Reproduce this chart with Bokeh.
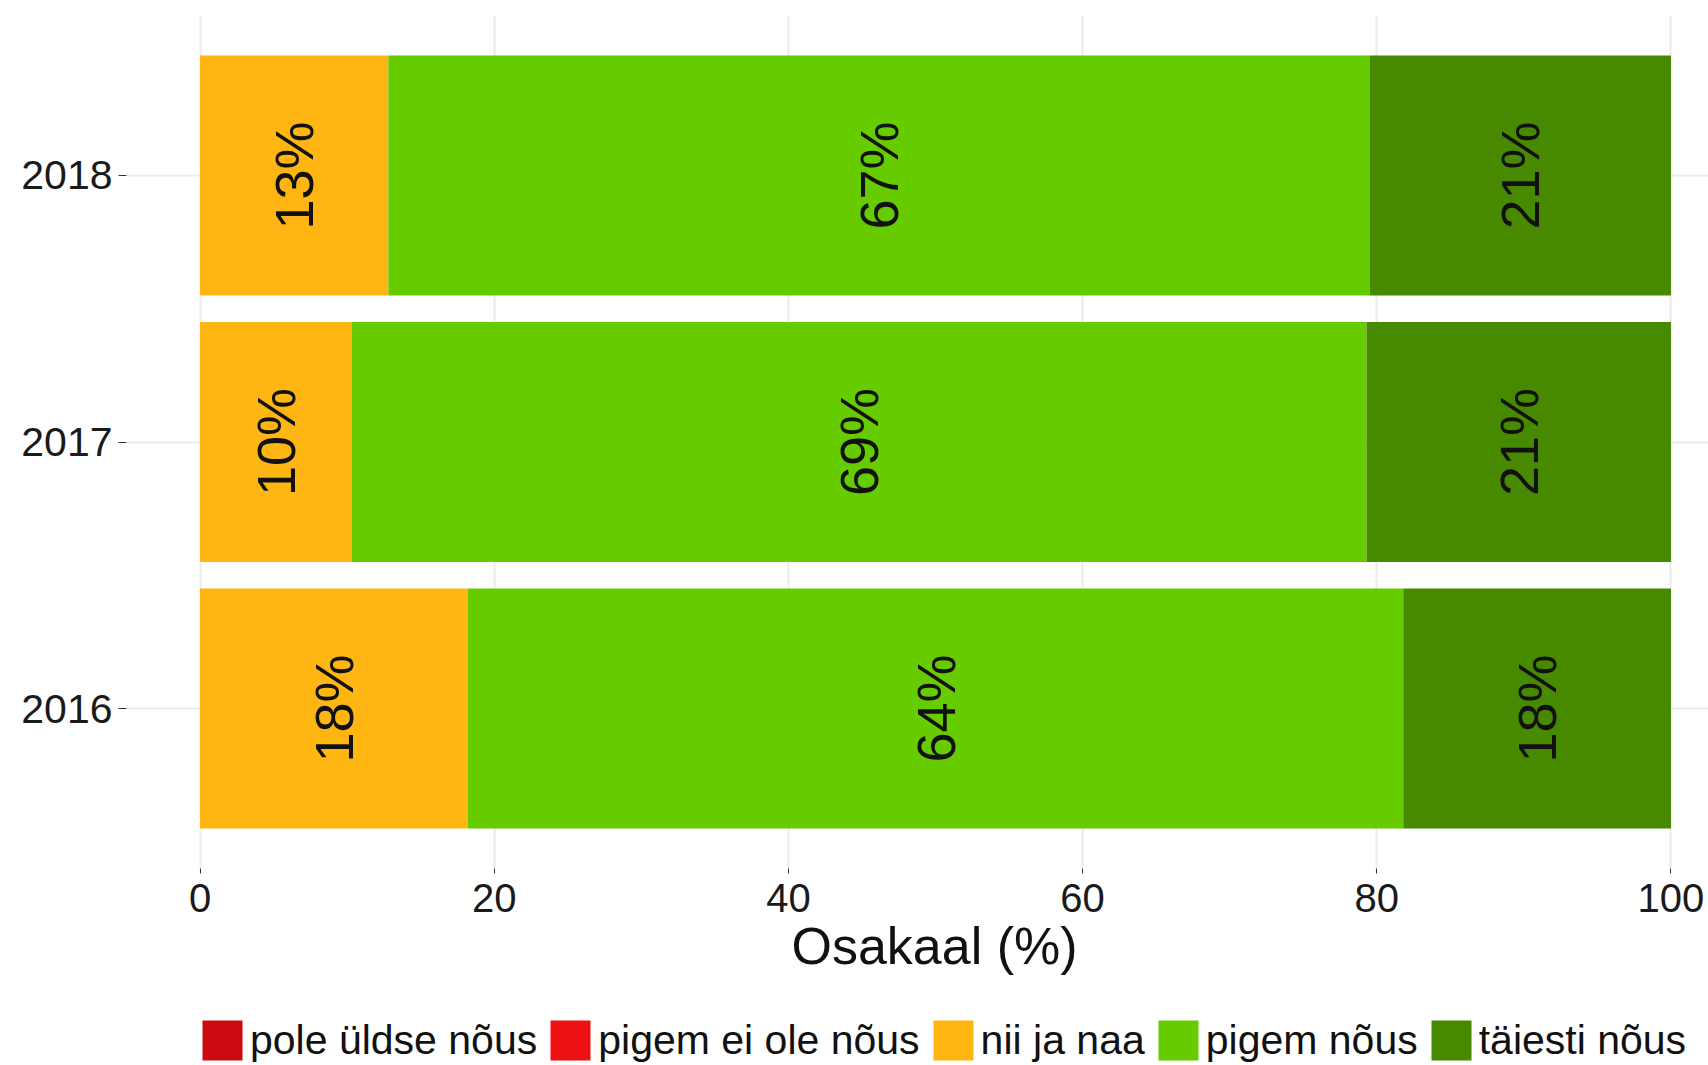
import math
from bokeh.plotting import figure
from bokeh.layouts import column
from bokeh.models import (ColumnDataSource, FactorRange, Range1d, FixedTicker,
                          Legend, LegendItem, Title)
from bokeh.core.properties import value
from bokeh.embed import file_html
from bokeh.resources import INLINE

# ---- data ----
years = ["2016", "2017", "2018"]
categories = ["pole üldse nõus", "pigem ei ole nõus", "nii ja naa", "pigem nõus", "täiesti nõus"]
pole_uldse_nous = [0.0, 0.0, 0.0]
pigem_ei_ole_nous = [0.0, 0.0, 0.0]
nii_ja_naa = [18.2, 10.3, 12.8]
pigem_nous = [63.6, 69.0, 66.7]
taiesti_nous = [18.2, 20.7, 20.5]
colors = ["#CC0A10", "#EE1111", "#FFB612", "#66CC00", "#478A00"]
x_ticks = [0, 20, 40, 60, 80, 100]
x_title = "Osakaal (%)"

FONT = "Liberation Sans"
keys = ["pole_uldse", "pigem_ei", "nii_ja_naa", "pigem_nous", "taiesti"]
series = [pole_uldse_nous, pigem_ei_ole_nous, nii_ja_naa, pigem_nous, taiesti_nous]

data = {"year": years}
for k, s in zip(keys, series):
    data[k] = s
source = ColumnDataSource(data)

p = figure(
    y_range=FactorRange(factors=years, range_padding=0.1, range_padding_units="absolute"),
    x_range=Range1d(-5, 102.55),
    width=1708, height=1005,
    min_border_left=126, min_border_right=0, min_border_top=15, min_border_bottom=137,
    output_backend="svg", toolbar_location=None,
)

p.xgrid.ticker = FixedTicker(ticks=x_ticks)
p.xgrid.grid_line_color = "#EBEBEB"
p.xgrid.grid_line_width = 2
p.ygrid.grid_line_color = "#EBEBEB"
p.ygrid.grid_line_width = 2

p.hbar_stack(keys, y="year", height=0.9, color=colors, line_color=None, source=source)

# labels in the middle of each segment
lx, ly, lt = [], [], []
for i, yr in enumerate(years):
    cum = 0.0
    for s in series:
        v = s[i]
        if v > 0:
            lx.append(cum + v / 2)
            ly.append(yr)
            lt.append(f"{int(v + 0.5)}%")
        cum += v
lsrc = ColumnDataSource(dict(x=lx, y=ly, t=lt))
p.text(x="x", y="y", text="t", source=lsrc, angle=math.pi / 2,
       text_align="center", text_baseline="middle",
       text_font=value(FONT), text_font_size="54px", text_color="#111111")

# axes
p.xaxis.ticker = FixedTicker(ticks=x_ticks)
p.xaxis.axis_line_color = None
p.xaxis.major_tick_out = 5
p.xaxis.major_tick_in = 0
p.xaxis.major_tick_line_color = "#333333"
p.xaxis.minor_tick_line_color = None
p.xaxis.major_label_standoff = 10
p.xaxis.major_label_text_font = FONT
p.xaxis.major_label_text_font_size = "40px"
p.xaxis.major_label_text_color = "#1a1a1a"

p.yaxis.axis_line_color = None
p.yaxis.major_tick_out = 8
p.yaxis.major_tick_in = 0
p.yaxis.major_tick_line_color = "#333333"
p.yaxis.major_label_standoff = 6
p.yaxis.major_label_text_font = FONT
p.yaxis.major_label_text_font_size = "41px"
p.yaxis.major_label_text_color = "#1a1a1a"

p.outline_line_color = None

# x axis title, centred on the 0-100 data span
p.add_layout(Title(text=x_title, align="left", offset=665, standoff=0,
                   text_font=FONT, text_font_size="52px", text_font_style="normal",
                   text_color="#111111"), "below")

# ---- legend strip below the chart ----
pl = figure(
    y_range=FactorRange(factors=years), x_range=Range1d(500, 600),
    x_axis_type=None, y_axis_type=None,
    width=1708, height=60,
    min_border_left=0, min_border_right=0, min_border_top=0, min_border_bottom=0,
    output_backend="svg", toolbar_location=None,
)
pl.grid.visible = False
pl.outline_line_color = None
leg_renderers = pl.hbar_stack(keys, y="year", height=0.9, color=colors, line_color=None, source=source)
for r in leg_renderers:
    r.visible = False

legend = Legend(
    items=[LegendItem(label=c, renderers=[r]) for c, r in zip(categories, leg_renderers)],
    orientation="horizontal", location=(71, 0),
    glyph_width=50, glyph_height=50, label_standoff=3, spacing=8,
    label_text_font=FONT, label_text_font_size="41px", label_text_color="#111111",
    padding=0, margin=0, border_line_color=None, background_fill_alpha=0,
)
pl.add_layout(legend)

layout = column(p, pl, spacing=0)
open("out.html", "w").write(file_html(layout, INLINE))
